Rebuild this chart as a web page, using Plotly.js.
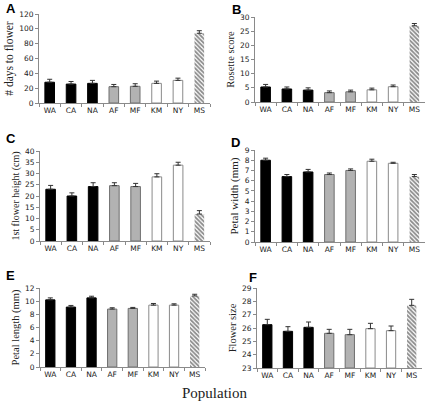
<!DOCTYPE html>
<html>
<head>
<meta charset="utf-8">
<script src="https://cdn.plot.ly/plotly-3.0.1.min.js"></script>
<style>html,body{margin:0;padding:0;background:#fff;}#chart{width:430px;height:404px;}</style>
</head>
<body>
<div id="chart"></div>
<script>
const populations = ["WA", "CA", "NA", "AF", "MF", "KM", "NY", "MS"];
const groupOf = ["black", "black", "black", "gray", "gray", "white", "white", "hatch"];

const daysToFlower = [28, 25.5, 26.5, 22, 22.5, 26.5, 30.5, 94];
const daysToFlowerErr = [4, 3.5, 4, 3, 3.5, 3, 3, 3.5];

const rosetteScore = [5.3, 4.6, 4.2, 3.3, 3.6, 4.3, 5.4, 26.9];
const rosetteScoreErr = [0.9, 0.7, 0.8, 0.6, 0.6, 0.6, 0.6, 0.8];

const flowerHeight = [23, 20, 24.2, 24.6, 24.2, 28.5, 33.7, 12];
const flowerHeightErr = [1.7, 1.4, 1.7, 1.3, 1.4, 1.4, 1.3, 1.5];

const petalWidth = [8.0, 6.4, 6.85, 6.6, 7.0, 7.9, 7.7, 6.4];
const petalWidthErr = [0.2, 0.2, 0.25, 0.15, 0.15, 0.2, 0.1, 0.2];

const petalLength = [10.2, 9.1, 10.5, 8.8, 8.9, 9.4, 9.4, 10.8];
const petalLengthErr = [0.3, 0.25, 0.25, 0.2, 0.15, 0.25, 0.2, 0.25];

const flowerSize = [26.25, 25.75, 26.05, 25.6, 25.5, 25.95, 25.8, 27.7];
const flowerSizeErr = [0.4, 0.35, 0.4, 0.3, 0.4, 0.4, 0.35, 0.45];

const panels = [
  {letter: "A", title: "# days to flower", y: daysToFlower, e: daysToFlowerErr, range: [0, 120], dtick: 20,
   box: [39, 210, 14, 103], tsize: 11.5},
  {letter: "B", title: "Rosette score", y: rosetteScore, e: rosetteScoreErr, range: [0, 30], dtick: 5,
   box: [255, 425, 17, 102], tsize: 10.5},
  {letter: "C", title: "1st flower height (cm)", y: flowerHeight, e: flowerHeightErr, range: [0, 40], dtick: 5,
   box: [40, 210, 151, 241], tsize: 10},
  {letter: "D", title: "Petal width (mm)", y: petalWidth, e: petalWidthErr, range: [0, 9], dtick: 1,
   box: [255, 425, 150, 242], tsize: 11},
  {letter: "E", title: "Petal length (mm)", y: petalLength, e: petalLengthErr, range: [0, 12], dtick: 2,
   box: [40, 205, 288, 367], tsize: 10.5},
  {letter: "F", title: "Flower size", y: flowerSize, e: flowerSizeErr, range: [23, 29], dtick: 1,
   box: [257, 422, 288, 368], tsize: 10.5}
];
const letterPos = [[4, 8], [230, 9], [4, 138], [229, 142], [4, 275], [247, 277]];

const W = 430, H = 404;
const fill = {black: "#000000", gray: "#b2b2b2", white: "#ffffff"};
const line = {black: "#000000", gray: "#6e6e6e", white: "#8a8a8a"};

const data = [];
const layout = {
  width: W, height: H,
  margin: {l: 0, r: 0, t: 0, b: 0},
  paper_bgcolor: "#fff", plot_bgcolor: "rgba(0,0,0,0)",
  showlegend: false,
  barmode: "overlay",
  bargap: 0.55,
  annotations: [],
  font: {family: "DejaVu Sans", size: 7.5, color: "#222"}
};

panels.forEach((p, i) => {
  const n = i + 1;
  const xa = "x" + (n === 1 ? "" : n), ya = "y" + (n === 1 ? "" : n);
  const base = p.range[0];
  const solidIdx = [], hatchIdx = [];
  groupOf.forEach((g, k) => (g === "hatch" ? hatchIdx : solidIdx).push(k));
  const errBar = idx => ({type: "data", symmetric: false, array: idx.map(k => p.e[k]),
      arrayminus: idx.map(() => 0), color: "#333", thickness: 1, width: 2.5});
  data.push({
    type: "bar",
    x: solidIdx.map(k => populations[k]),
    y: solidIdx.map(k => p.y[k] - base),
    base: base,
    xaxis: xa, yaxis: ya,
    marker: {
      color: solidIdx.map(k => fill[groupOf[k]]),
      line: {color: solidIdx.map(k => line[groupOf[k]]), width: 1}
    },
    error_y: errBar(solidIdx),
    hoverinfo: "none"
  });
  data.push({
    type: "bar",
    x: hatchIdx.map(k => populations[k]),
    y: hatchIdx.map(k => p.y[k] - base),
    base: base,
    xaxis: xa, yaxis: ya,
    marker: {
      color: "#ffffff",
      line: {color: "#ffffff", width: 0},
      pattern: {shape: "\\", fgcolor: "#1a1a1a", bgcolor: "#ffffff", size: 3, solidity: 0.6, fillmode: "overlay"}
    },
    error_y: errBar(hatchIdx),
    hoverinfo: "none"
  });
  const [x0, x1, y0, y1] = p.box;
  layout["xaxis" + (n === 1 ? "" : n)] = {
    domain: [x0 / W, x1 / W], anchor: ya,
    type: "category", range: [-0.5, 7.5], categoryorder: "array", categoryarray: populations,
    showline: true, linecolor: "#8a8a8a", linewidth: 1,
    ticks: "outside", ticklen: 3, tickcolor: "#8a8a8a", tickson: "boundaries",
    tickangle: 0,
    showgrid: false, zeroline: false, fixedrange: true,
    tickfont: {family: "DejaVu Sans", size: 7.5, color: "#222"}
  };
  layout["yaxis" + (n === 1 ? "" : n)] = {
    domain: [1 - y1 / H, 1 - y0 / H], anchor: xa,
    range: p.range, dtick: p.dtick, tick0: p.range[0],
    showline: true, linecolor: "#8a8a8a", linewidth: 1,
    ticks: "outside", ticklen: 3, tickcolor: "#8a8a8a",
    showgrid: false, zeroline: false, fixedrange: true,
    tickfont: {family: "DejaVu Sans", size: 7.5, color: "#222"},
    title: {text: p.title, font: {family: "Liberation Serif", size: p.tsize, color: "#222"}, standoff: 3}
  };
  layout.annotations.push({
    text: p.letter, xref: "paper", yref: "paper",
    x: letterPos[i][0] / W, y: 1 - letterPos[i][1] / H,
    xanchor: "left", yanchor: "middle", showarrow: false,
    font: {family: "Liberation Sans", size: 13, color: "#000", weight: "bold"}
  });
});

layout.annotations.push({
  text: "Population", xref: "paper", yref: "paper", x: 0.5, y: 1 - 393 / H,
  xanchor: "center", yanchor: "middle", showarrow: false,
  font: {family: "Liberation Serif", size: 15, color: "#222"}
});

Plotly.newPlot("chart", data, layout, {staticPlot: true, displayModeBar: false});
</script>
</body>
</html>
